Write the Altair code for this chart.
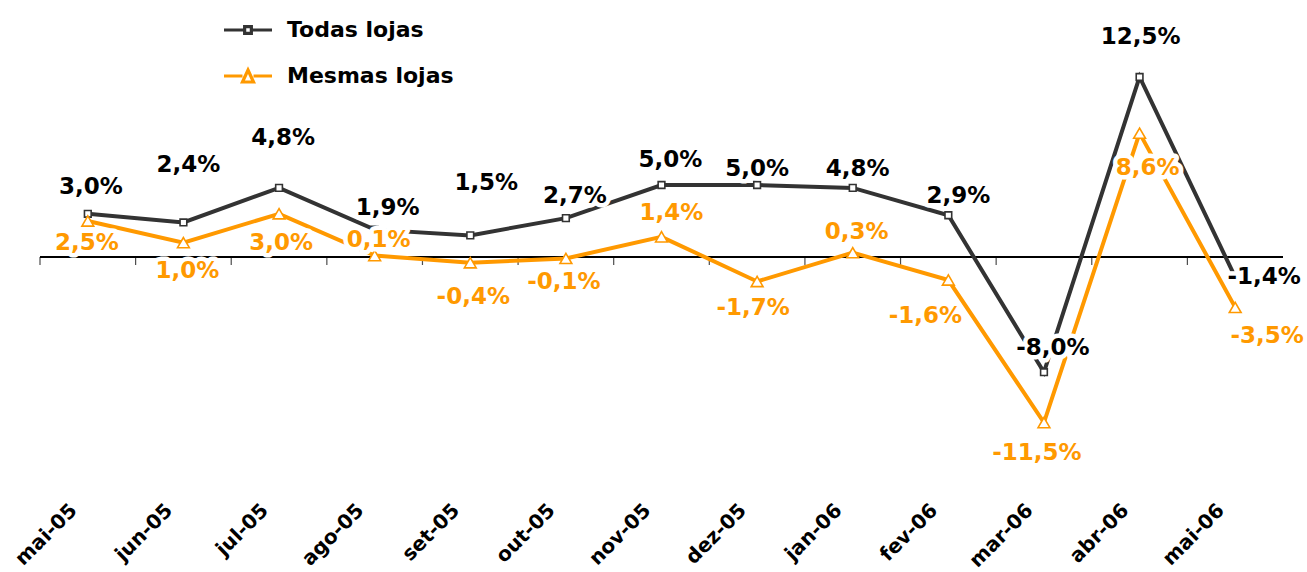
import altair as alt
import pandas as pd

# ---- data ----
meses = ["mai-05", "jun-05", "jul-05", "ago-05", "set-05", "out-05", "nov-05",
         "dez-05", "jan-06", "fev-06", "mar-06", "abr-06", "mai-06"]
todas = [3.0, 2.4, 4.8, 1.9, 1.5, 2.7, 5.0, 5.0, 4.8, 2.9, -8.0, 12.5, -1.4]
mesmas = [2.5, 1.0, 3.0, 0.1, -0.4, -0.1, 1.4, -1.7, 0.3, -1.6, -11.5, 8.6, -3.5]
series = ["Todas lojas", "Mesmas lojas"]

# label placement offsets (pixels), as placed in the original chart
todas_dx = [3, 5, 4, 13, 16, 9, 9, 0, 5, 10, 9, 1, 29]
todas_dy = [-27, -57, -50, -22, -52, -22, -25, -16, -19, -19, -24, -40, 0]
mesmas_dx = [-1, 4, 2, 4, 3, -2, 10, -4, 4, -23, -7, 8, 32]
mesmas_dy = [22, 28, 29, -16, 34, 24, -24, 27, -21, 36, 30, 35, 29]

BLACK_LINE = "#333333"
ORANGE = "#FF9900"
FONT = "DejaVu Sans"
W, H = 1243, 432


def fmt(v):
    return f"{v:.1f}%".replace(".", ",")


rows = []
for name, vals, dxs, dys in [(series[0], todas, todas_dx, todas_dy),
                             (series[1], mesmas, mesmas_dx, mesmas_dy)]:
    for m, v, dx, dy in zip(meses, vals, dxs, dys):
        rows.append({"mes": m, "serie": name, "valor": v, "label": fmt(v),
                     "ldx": dx, "ldy": dy})
df = pd.DataFrame(rows)
df_t = df[df.serie == series[0]].reset_index(drop=True)
df_m = df[df.serie == series[1]].reset_index(drop=True)
df_mes = pd.DataFrame({"mes": meses, "zero": [0.0] * len(meses)})

x_scale = alt.Scale(type="band", domain=meses, paddingInner=0, paddingOuter=0)
x_axis = alt.Axis(title=None, labelAngle=-45, labelAlign="right", labelBaseline="middle",
                  labelFont=FONT, labelFontSize=20, labelFontWeight="bold",
                  labelColor="black", labelPadding=34, labelOffset=-14,
                  ticks=False, domain=False, grid=False, labelOverlap=False)


def X(band=0.5):
    return alt.X("mes:N", scale=x_scale, bandPosition=band, axis=x_axis)


y_scale = alt.Scale(domain=[-15, 15], nice=False, zero=False)
y_enc = alt.Y("valor:Q", scale=y_scale, axis=None)

# zero line with category-boundary ticks
zero_line = alt.Chart(df_mes).mark_rule(color="black", strokeWidth=1.3).encode(
    y=alt.Y("zero:Q", scale=y_scale, axis=None), x=alt.value(0), x2=alt.value(W))
ticks = alt.Chart(df_mes).mark_tick(color="black", thickness=1.2, size=8, yOffset=4,
                                    orient="vertical").encode(
    x=X(0), y=alt.Y("zero:Q", scale=y_scale, axis=None))


def line_layer(d, color):
    return alt.Chart(d).mark_line(color=color, strokeWidth=4).encode(x=X(), y=y_enc)


def point_layer(d, color, shape, size):
    return alt.Chart(d).mark_point(shape=shape, size=size, filled=True, fill="white",
                                   stroke=color, strokeWidth=1.6, opacity=1).encode(x=X(), y=y_enc)


def text_layers(d, color):
    enc = dict(x=X(), y=y_enc, text="label:N")
    common = dict(font=FONT, fontSize=23, fontWeight="bold", align="center",
                  baseline="middle", dx=alt.expr("datum.ldx"), dy=alt.expr("datum.ldy"))
    halo = alt.Chart(d).mark_text(fill="white", stroke="white", strokeWidth=9,
                                  strokeJoin="round", **common).encode(**enc)
    txt = alt.Chart(d).mark_text(color=color, **common).encode(**enc)
    return halo, txt


# legend: symbols are a line with its marker drawn as a custom path
path_sq = "M-1,0L-0.14,0M0.14,0L1,0M-0.14,-0.14L0.14,-0.14L0.14,0.14L-0.14,0.14Z"
path_tri = "M-1,0L-0.23,0M0.23,0L1,0M0,-0.25L0.23,0.25L-0.23,0.25Z"
legend_def = alt.Legend(
    title=None, orient="none", legendX=182, legendY=-37,
    symbolSize=48 * 48, symbolStrokeWidth=3.2, symbolFillColor="white", symbolOpacity=1,
    symbolStrokeColor=alt.expr(f"datum.value === '{series[0]}' ? '{BLACK_LINE}' : '{ORANGE}'"),
    labelFont=FONT, labelFontSize=22, labelFontWeight="bold",
    labelColor="black", labelOffset=13, labelLimit=400,
    rowPadding=9, padding=0, direction="vertical",
)
legend_layer = alt.Chart(df).mark_point(filled=False, strokeWidth=3, size=0, opacity=0).encode(
    x=X(), y=y_enc,
    shape=alt.Shape("serie:N", scale=alt.Scale(domain=series, range=[path_sq, path_tri]),
                    legend=legend_def),
)

halo_t, txt_t = text_layers(df_t, "black")
halo_m, txt_m = text_layers(df_m, ORANGE)

chart = alt.layer(
    zero_line,
    ticks,
    line_layer(df_t, BLACK_LINE),
    point_layer(df_t, BLACK_LINE, "square", 45),
    line_layer(df_m, ORANGE),
    point_layer(df_m, ORANGE, "triangle-up", 140),
    halo_t, halo_m,
    txt_t, txt_m,
    legend_layer,
).properties(
    width=W, height=H,
    autosize=alt.AutoSizeParams(type="none"),
    padding={"left": 40, "top": 41, "right": 24, "bottom": 99},
    background="white",
).configure_view(stroke=None)

chart.save("out.html", embed_options={"renderer": "svg", "actions": False})
